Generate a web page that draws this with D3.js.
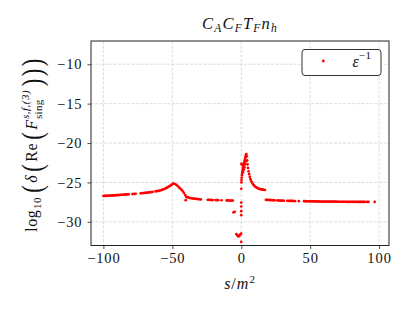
<!DOCTYPE html>
<html>
<head>
<meta charset="utf-8">
<script src="https://cdn.jsdelivr.net/npm/d3@7"></script>
<style>
  body { margin: 0; background: #fff; }
  svg { display: block; }
  text { font-family: "Liberation Serif", "DejaVu Serif", serif; fill: #111; }
</style>
</head>
<body>
<div id="chart"></div>
<script>
// values: s/m^2 and log10 of the error
let sLeft = [-100, -99.2, -98.4, -97.7, -96.9, -96.0, -95.2, -94.3, -93.5, -92.6, -91.8, -90.9, -89.9, -89.0, -88.1, -87.2, -86.3, -85.3, -84.4, -83.6, -82.7, -81.6, -78.9, -77.8, -76.6, -72.9, -71.8, -70.8, -69.9, -69.0, -68.1, -67.2, -66.3, -65.3, -64.4, -62.2, -61.2, -60.2, -59.2, -58.4, -57.6, -56.7, -55.8, -55.0, -54.2, -53.4, -52.6, -51.9, -51.1, -50.4, -49.7, -49.1,
  -48.0, -47.1, -46.3, -45.3, -44.4, -43.4, -42.5, -41.6, -40.6, -40.3, -40.0, -39.2, -38.4, -37.5, -36.6, -35.7, -34.8, -33.9, -33.0, -32.1, -31.2, -30.3, -29.3, -24.3, -23.4, -22.5, -21.6, -20.7, -18.6, -17.7, -16.8, -14.3, -10.6, -9.7, -8.8, -7.9, -7.0, -6.1];
let yLeft = [-26.72, -26.71, -26.70, -26.70, -26.69, -26.68, -26.67, -26.66, -26.65, -26.64, -26.63, -26.62, -26.61, -26.60, -26.58, -26.57, -26.56, -26.55, -26.53, -26.52, -26.51, -26.50, -26.47, -26.46, -26.44, -26.38, -26.36, -26.34, -26.32, -26.31, -26.29, -26.27, -26.25, -26.22, -26.20, -26.14, -26.11, -26.07, -26.03, -25.99, -25.95, -25.89, -25.83, -25.77, -25.70, -25.62, -25.53, -25.45, -25.36, -25.27, -25.18, -25.13,
  -25.20, -25.30, -25.42, -25.58, -25.74, -25.92, -26.10, -26.33, -26.60, -27.25, -26.82, -26.87, -26.91, -26.95, -26.98, -27.01, -27.04, -27.06, -27.08, -27.10, -27.12, -27.13, -27.15, -27.20, -27.21, -27.22, -27.23, -27.23, -27.24, -27.25, -27.25, -27.26, -27.28, -27.28, -27.29, -27.29, -27.30, -27.30];

let sCenter = [-5.6, -4.7, -3.6, -3.0, -2.4, -1.8, -1.2, -0.6, -0.1, 0.0, 0.0, 0.0, 0.0, 0.0, 0.0,
  0.1, 0.2, 0.3, 0.5, 0.7, 0.9, 1.1, 1.3, 1.6, 1.9, 2.2, 2.5, 2.8, 3.1, 3.4, 3.7, 0.2, 0.4, 1.2, 1.8, 2.4, 3.0, 3.6,
  4.0, 4.3, 4.6, 4.9, 5.3, 5.7, 6.2, 6.7, 7.3, 7.9, 8.6, 9.3, 10.0, 10.8, 11.6, 12.4, 13.2, 14.0, 14.8, 15.6, 16.4, 17.2];
let yCenter = [-28.80, -28.72, -31.55, -31.68, -31.80, -31.85, -31.72, -31.58, -31.48, -32.55, -29.15, -28.65, -28.05, -27.55, -25.80,
  -25.00, -24.70, -24.40, -24.10, -23.85, -23.60, -23.35, -23.10, -22.90, -22.70, -22.45, -22.20, -21.95, -21.70, -21.50, -21.40, -22.60, -22.75, -23.70, -23.40, -23.10, -22.70, -22.30,
  -21.70, -22.20, -22.70, -23.15, -23.60, -23.95, -24.30, -24.58, -24.85, -25.05, -25.25, -25.40, -25.52, -25.62, -25.70, -25.77, -25.82, -25.86, -25.89, -25.92, -25.94, -25.96];

let sRight = [17.9, 18.7, 19.6, 20.5, 21.4, 22.4, 23.3, 24.2, 26.3, 27.3, 28.2, 29.1, 30.1, 31.0, 33.4, 34.4, 35.5, 36.4, 37.3, 38.2, 39.1, 41.8, 45.6, 46.5, 47.4, 48.3, 49.2, 50.1, 51.0, 51.9, 52.8, 53.7, 54.6, 55.5, 56.4, 57.3, 58.2, 59.1, 60.0, 60.9, 61.8, 62.7, 63.6, 64.5, 65.4, 66.3, 67.2, 68.1, 69.0, 69.9, 70.8, 71.7, 72.6, 73.5, 74.4, 75.3, 76.2, 77.1, 78.0, 78.9, 79.8, 80.7, 81.6, 82.5, 83.4, 84.3, 85.2, 86.1, 87.0, 87.9, 88.8, 89.7, 91.4, 92.3, 96.8];
let yRight = [-27.20, -27.21, -27.22, -27.23, -27.24, -27.25, -27.26, -27.27, -27.28, -27.29, -27.30, -27.31, -27.31, -27.32, -27.33, -27.34, -27.34, -27.35, -27.35, -27.36, -27.36, -27.37, -27.38, -27.38, -27.39, -27.39, -27.39, -27.40, -27.40, -27.40, -27.41, -27.41, -27.41, -27.41, -27.42, -27.42, -27.42, -27.42, -27.43, -27.43, -27.43, -27.43, -27.43, -27.44, -27.44, -27.44, -27.44, -27.44, -27.44, -27.45, -27.45, -27.45, -27.45, -27.45, -27.45, -27.45, -27.46, -27.46, -27.46, -27.46, -27.46, -27.46, -27.46, -27.46, -27.46, -27.47, -27.47, -27.47, -27.47, -27.47, -27.47, -27.47, -27.47, -27.47, -27.47];

let xTicks = [-100, -50, 0, 50, 100];
let yTicks = [-30, -25, -20, -15, -10];
let legendLabel = "ε";

let width = 410;
let height = 313;
let plotLeft = 91, plotRight = 389, plotTop = 41, plotBottom = 245.5;

let svg = d3.select("#chart")
  .append("svg")
  .attr("width", width)
  .attr("height", height);

let x = d3.scaleLinear().domain([-109.0, 107.2]).range([plotLeft, plotRight]);
let y = d3.scaleLinear().domain([-33.0, -7.05]).range([plotBottom, plotTop]);

// grid
let grid = svg.append("g");
grid.selectAll(".gx").data(xTicks).enter().append("line")
  .attr("x1", d => x(d)).attr("x2", d => x(d))
  .attr("y1", plotTop).attr("y2", plotBottom)
  .style("stroke", "#cfcfcf").style("stroke-width", 0.7).style("stroke-dasharray", "3,1.5");
grid.selectAll(".gy").data(yTicks).enter().append("line")
  .attr("x1", plotLeft).attr("x2", plotRight)
  .attr("y1", d => y(d)).attr("y2", d => y(d))
  .style("stroke", "#cfcfcf").style("stroke-width", 0.7).style("stroke-dasharray", "3,1.5");

// axes
let minus = d => (d < 0 ? "\u2212" + Math.abs(d) : "" + d);
let xAxis = svg.append("g")
  .attr("transform", `translate(0,${plotBottom})`)
  .call(d3.axisBottom(x).tickValues(xTicks).tickFormat(minus).tickSize(3.5).tickPadding(4));
let yAxis = svg.append("g")
  .attr("transform", `translate(${plotLeft},0)`)
  .call(d3.axisLeft(y).tickValues(yTicks).tickFormat(minus).tickSize(3.5).tickPadding(5));
[xAxis, yAxis].forEach(a => {
  a.select(".domain").remove();
  a.selectAll("line").style("stroke", "#222").style("stroke-width", 0.8);
  a.selectAll("text").style("font-family", "Liberation Serif, serif").style("font-size", "14.5px")
    .style("letter-spacing", "0.9px").style("fill", "#111");
});

// points
let pts = [];
[[sLeft, yLeft], [sCenter, yCenter], [sRight, yRight]].forEach(([ss, yy]) => {
  ss.forEach((s, i) => pts.push({ s: s, v: yy[i] }));
});
svg.append("g").selectAll("circle")
  .data(pts)
  .enter()
  .append("circle")
  .attr("cx", d => x(d.s))
  .attr("cy", d => y(d.v))
  .attr("r", 1.35)
  .style("fill", "#ff0000");

// frame
svg.append("rect")
  .attr("x", plotLeft).attr("y", plotTop)
  .attr("width", plotRight - plotLeft).attr("height", plotBottom - plotTop)
  .style("fill", "none").style("stroke", "#222").style("stroke-width", 1);

// title
let title = svg.append("text")
  .attr("x", 240).attr("y", 28.5)
  .style("text-anchor", "middle").style("font-size", "16.5px").style("letter-spacing", "1.2px");
[["C", 0], ["A", 1], ["C", 0], ["F", 1], ["T", 0], ["F", 1], ["n", 0], ["h", 1]].forEach(([t, sub], i, arr) => {
  let prevSub = i > 0 ? arr[i - 1][1] : 0;
  title.append("tspan")
    .attr("dy", sub ? 3.5 : (prevSub ? -3.5 : 0))
    .style("font-style", "italic")
    .style("font-size", sub ? "11.5px" : "16.5px")
    .text(t);
});

// x label
let xLabel = svg.append("text")
  .attr("x", 240).attr("y", 289)
  .style("text-anchor", "middle").style("font-size", "16px").style("letter-spacing", "1px");
xLabel.append("tspan").style("font-style", "italic").text("s");
xLabel.append("tspan").text("/");
xLabel.append("tspan").style("font-style", "italic").text("m");
xLabel.append("tspan").attr("dy", -6).style("font-size", "11px").text("2");

// y label, laid out piece by piece then centred
let yl = svg.append("g").attr("transform", "translate(37,145) rotate(-90)");
let pieces = [
  { t: "log", size: 16 },
  { t: "10", size: 11, dy: 4 },
  { t: "(", paren: true, gap: 3.5 },
  { t: "δ", size: 16, italic: true, gap: 2 },
  { t: "(", paren: true, gap: 2.5 },
  { t: "Re", size: 16, gap: 2 },
  { t: "(", paren: true, gap: 2.5 },
  { t: "F", size: 16, italic: true, gap: 2 },
  { sup: "s,f,(3)", sub: "sing" },
  { t: ")", paren: true, gap: 2.5 },
  { t: ")", paren: true, gap: 2 },
  { t: ")", paren: true, gap: 2 }
];
let cursor = 0;
pieces.forEach(p => {
  cursor += p.gap || 0;
  if (p.sup) {
    let a = yl.append("text").attr("x", cursor).attr("y", -8)
      .style("font-size", "11px").style("font-style", "italic").style("letter-spacing", "0.5px").text(p.sup);
    let b = yl.append("text").attr("x", cursor).attr("y", 5)
      .style("font-size", "11px").style("letter-spacing", "0.3px").text(p.sub);
    cursor += Math.max(a.node().getComputedTextLength(), b.node().getComputedTextLength()) + 1;
  } else if (p.paren) {
    let el = yl.append("text").attr("y", 0).style("font-size", "29px").style("font-weight", 300).text(p.t);
    let w = el.node().getComputedTextLength() * 0.78;
    el.attr("transform", `translate(${cursor},4.5) scale(0.78,1)`);
    cursor += w + 0.5;
  } else {
    let el = yl.append("text").attr("x", cursor).attr("y", p.dy || 0)
      .style("font-size", p.size + "px")
      .style("font-style", p.italic ? "italic" : "normal")
      .style("letter-spacing", p.italic ? "0px" : "0.6px").text(p.t);
    cursor += el.node().getComputedTextLength() + (p.italic ? 1 : 0.5);
  }
});
yl.attr("transform", `translate(37,${145 + cursor / 2}) rotate(-90)`);

// legend
let lg = svg.append("g");
lg.append("rect")
  .attr("x", 302).attr("y", 49.5).attr("width", 79).attr("height", 26).attr("rx", 3)
  .style("fill", "#fff").style("stroke", "#333").style("stroke-width", 1);
lg.append("circle").attr("cx", 323.3).attr("cy", 61).attr("r", 1.4).style("fill", "#ff0000");
let lt = lg.append("text").attr("x", 352.5).attr("y", 66.5).style("font-size", "16px");
lt.append("tspan").style("font-style", "italic").text(legendLabel);
lt.append("tspan").attr("dy", -7.5).style("font-size", "11px").style("letter-spacing", "0.6px").text("\u22121");
</script>
</body>
</html>
